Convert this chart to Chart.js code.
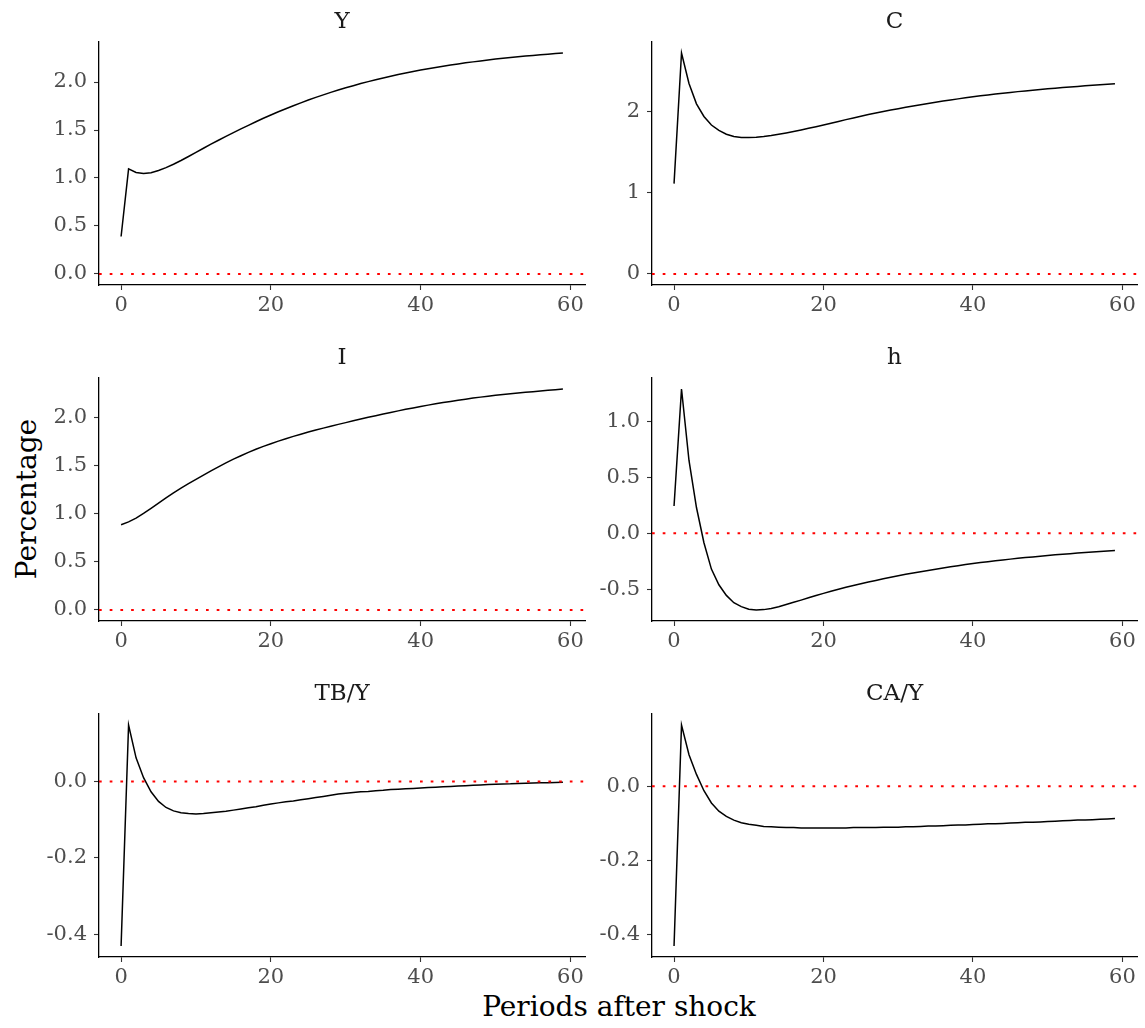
<!DOCTYPE html>
<html>
<head>
<meta charset="utf-8">
<script src="https://cdn.jsdelivr.net/npm/chart.js@4"></script>
<style>
  body { margin: 0; background: #fff; }
  #page { position: relative; width: 1145px; height: 1028px; font-family: "DejaVu Serif", serif; }
  canvas { position: absolute; }
  .ptitle { position: absolute; width: 300px; text-align: center; font-size: 23px; color: #1a1a1a; line-height: 26px; }
  #ylab { position: absolute; left: 26px; top: 499px; transform: translate(-50%, -50%) rotate(-90deg); font-size: 28px; white-space: nowrap; }
  #xlab { position: absolute; left: 619px; top: 1006px; transform: translate(-50%, -50%); font-size: 28px; white-space: nowrap; }
</style>
</head>
<body>
<div id="page">
  <div id="ylab">Percentage</div>
  <div id="xlab">Periods after shock</div>
</div>
<script>
// periods after the shock (x axis)
const periods = [0,1,2,3,4,5,6,7,8,9,10,11,12,13,14,15,16,17,18,19,20,21,22,23,24,25,26,27,28,29,
  30,31,32,33,34,35,36,37,38,39,40,41,42,43,44,45,46,47,48,49,50,51,52,53,54,55,56,57,58,59];

const seriesY = [0.390,1.095,1.058,1.048,1.055,1.078,1.108,1.143,1.182,1.224,1.267,1.310,1.352,1.393,1.433,
  1.472,1.511,1.549,1.586,1.622,1.657,1.690,1.722,1.753,1.783,1.812,1.840,1.866,1.892,1.916,
  1.940,1.962,1.984,2.004,2.024,2.043,2.061,2.078,2.094,2.110,2.125,2.139,2.152,2.165,2.177,
  2.189,2.200,2.210,2.220,2.230,2.239,2.247,2.255,2.263,2.270,2.277,2.284,2.290,2.296,2.302];

const seriesC = [1.110,2.714,2.340,2.090,1.935,1.830,1.763,1.716,1.688,1.676,1.675,1.679,1.688,1.700,1.715,
  1.731,1.749,1.769,1.789,1.809,1.830,1.852,1.874,1.896,1.917,1.938,1.958,1.977,1.996,2.014,
  2.031,2.048,2.064,2.080,2.095,2.110,2.124,2.138,2.151,2.164,2.176,2.188,2.199,2.210,2.220,
  2.230,2.240,2.249,2.258,2.266,2.274,2.282,2.290,2.297,2.304,2.311,2.318,2.324,2.330,2.336];

const seriesI = [0.886,0.915,0.955,1.003,1.056,1.110,1.164,1.216,1.266,1.313,1.358,1.402,1.446,1.488,1.528,
  1.567,1.603,1.638,1.670,1.700,1.728,1.755,1.780,1.804,1.827,1.849,1.870,1.890,1.910,1.929,
  1.947,1.966,1.984,2.002,2.019,2.036,2.053,2.069,2.085,2.100,2.115,2.129,2.142,2.155,2.167,
  2.180,2.191,2.202,2.212,2.222,2.231,2.239,2.247,2.255,2.262,2.269,2.276,2.283,2.289,2.296];

const seriesH = [0.243,1.288,0.650,0.230,-0.085,-0.320,-0.460,-0.555,-0.620,-0.655,-0.678,-0.685,-0.682,-0.672,-0.656,
  -0.637,-0.617,-0.597,-0.576,-0.556,-0.537,-0.518,-0.500,-0.483,-0.467,-0.451,-0.436,-0.421,-0.407,-0.393,
  -0.380,-0.367,-0.355,-0.343,-0.332,-0.321,-0.310,-0.300,-0.290,-0.280,-0.271,-0.262,-0.254,-0.246,-0.238,
  -0.231,-0.224,-0.217,-0.211,-0.205,-0.199,-0.193,-0.187,-0.182,-0.177,-0.172,-0.167,-0.162,-0.158,-0.154];

const seriesTB = [-0.431,0.148,0.062,0.010,-0.027,-0.052,-0.068,-0.077,-0.082,-0.084,-0.085,-0.084,-0.082,-0.080,-0.078,
  -0.075,-0.072,-0.069,-0.066,-0.062,-0.059,-0.056,-0.053,-0.051,-0.048,-0.045,-0.042,-0.039,-0.036,-0.033,
  -0.031,-0.029,-0.027,-0.026,-0.024,-0.023,-0.021,-0.020,-0.019,-0.018,-0.017,-0.016,-0.015,-0.014,-0.013,
  -0.012,-0.011,-0.010,-0.009,-0.008,-0.007,-0.0065,-0.006,-0.005,-0.0045,-0.004,-0.0035,-0.003,-0.0025,-0.002];

const seriesCA = [-0.430,0.165,0.085,0.032,-0.012,-0.045,-0.067,-0.081,-0.091,-0.098,-0.102,-0.105,-0.108,-0.109,-0.110,
  -0.111,-0.111,-0.112,-0.112,-0.112,-0.112,-0.112,-0.112,-0.112,-0.111,-0.111,-0.111,-0.111,-0.110,-0.110,
  -0.110,-0.109,-0.109,-0.108,-0.107,-0.107,-0.106,-0.105,-0.104,-0.104,-0.103,-0.102,-0.101,-0.101,-0.100,
  -0.099,-0.098,-0.097,-0.097,-0.096,-0.095,-0.094,-0.093,-0.092,-0.091,-0.091,-0.090,-0.089,-0.088,-0.087];

// tick labels
const xTicks = [0, 20, 40, 60];
const yTicksY = [0, 0.5, 1, 1.5, 2];
const yTicksC = [0, 1, 2];
const yTicksI = [0, 0.5, 1, 1.5, 2];
const yTicksH = [-0.5, 0, 0.5, 1];
const yTicksTB = [-0.4, -0.2, 0];
const yTicksCA = [-0.4, -0.2, 0];

const panels = [
  { title: "Y", data: seriesY, ticks: yTicksY, dec: 1, col: 0, row: 0 },
  { title: "C", data: seriesC, ticks: yTicksC, dec: 0, col: 1, row: 0 },
  { title: "I", data: seriesI, ticks: yTicksI, dec: 1, col: 0, row: 1 },
  { title: "h", data: seriesH, ticks: yTicksH, dec: 1, col: 1, row: 1 },
  { title: "TB/Y", data: seriesTB, ticks: yTicksTB, dec: 1, col: 0, row: 2 },
  { title: "CA/Y", data: seriesCA, ticks: yTicksCA, dec: 1, col: 1, row: 2 },
];

// plot-area geometry
const colLeft = [99, 652], colRight = [585, 1137];
const rowTop = [42, 378, 714], rowBottom = [285, 621, 957];
const YW = 70, XH = 34, PT = 20, PR = 10;

Chart.defaults.font.family = "'DejaVu Serif', serif";
Chart.defaults.animation = false;

// ggplot style 5% expansion
function expand(lo, hi) {
  const d = (hi - lo) * 0.05;
  return [lo - d, hi + d];
}

const page = document.getElementById("page");
const [xMin, xMax] = expand(periods[0], periods[periods.length - 1]);

panels.forEach((p) => {
  const aw = colRight[p.col] - colLeft[p.col];
  const ah = rowBottom[p.row] - rowTop[p.row];
  const cv = document.createElement("canvas");
  cv.width = YW + aw + PR;
  cv.height = PT + ah + XH;
  cv.style.left = (colLeft[p.col] - YW) + "px";
  cv.style.top = (rowTop[p.row] - PT) + "px";
  page.appendChild(cv);

  const t = document.createElement("div");
  t.className = "ptitle";
  t.textContent = p.title;
  t.style.left = ((colLeft[p.col] + colRight[p.col]) / 2 - 150) + "px";
  t.style.top = (rowTop[p.row] - 35) + "px";
  page.appendChild(t);

  const [yMin, yMax] = expand(Math.min(0, ...p.data), Math.max(0, ...p.data));

  new Chart(cv, {
    type: "line",
    data: {
      datasets: [
        {
          data: [{ x: xMin, y: 0 }, { x: xMax, y: 0 }],
          borderColor: "#ff0000",
          borderWidth: 2,
          borderDash: [2.7, 8],
          pointRadius: 0,
        },
        {
          data: periods.map((x, i) => ({ x: x, y: p.data[i] })),
          borderColor: "#000",
          borderWidth: 1.5,
          pointRadius: 0,
          tension: 0,
        },
      ],
    },
    options: {
      responsive: false,
      layout: { padding: { top: PT, right: PR, left: 0, bottom: 0 } },
      plugins: { legend: { display: false }, tooltip: { enabled: false } },
      scales: {
        x: {
          type: "linear",
          min: xMin,
          max: xMax,
          afterBuildTicks: (s) => { s.ticks = xTicks.map((v) => ({ value: v })); },
          afterFit: (s) => { s.height = XH; },
          grid: { drawOnChartArea: false, tickLength: 5, tickColor: "#333", tickWidth: 1.1 },
          border: { display: true, color: "#000", width: 1.3 },
          ticks: { color: "#4d4d4d", font: { size: 21 }, padding: 3, maxRotation: 0 },
        },
        y: {
          min: yMin,
          max: yMax,
          afterBuildTicks: (s) => { s.ticks = p.ticks.map((v) => ({ value: v })); },
          afterFit: (s) => { s.width = YW; },
          grid: { drawOnChartArea: false, tickLength: 5, tickColor: "#333", tickWidth: 1.1 },
          border: { display: true, color: "#000", width: 1.3 },
          ticks: {
            color: "#4d4d4d",
            font: { size: 21 },
            padding: 7,
            callback: (v) => Number(v).toFixed(p.dec),
          },
        },
      },
    },
  });
});
</script>
</body>
</html>
